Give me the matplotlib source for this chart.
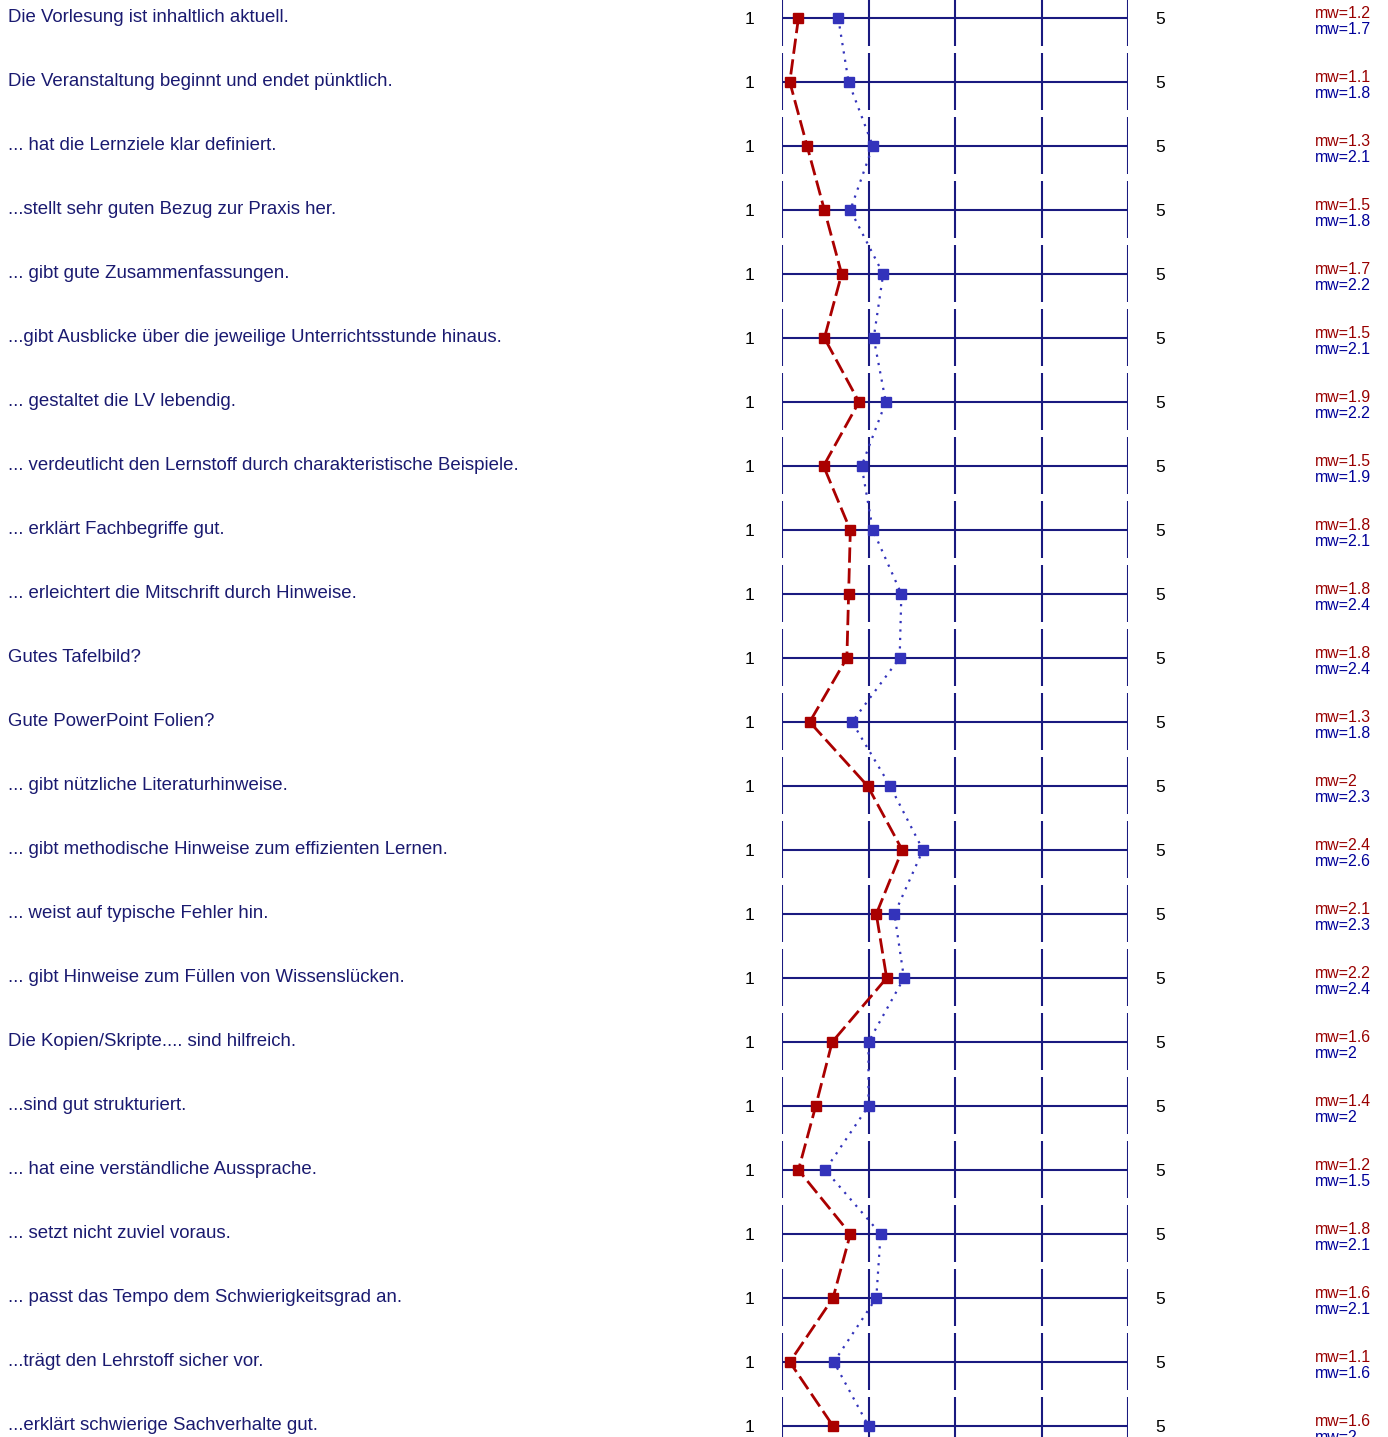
import numpy as np
import matplotlib
matplotlib.use("Agg")
import matplotlib.pyplot as plt
from matplotlib.transforms import blended_transform_factory

plt.rcParams['font.family'] = ['Liberation Sans', 'DejaVu Sans']

# statements (one row each)
questions = [
    "Die Vorlesung ist inhaltlich aktuell.",
    "Die Veranstaltung beginnt und endet pünktlich.",
    "... hat die Lernziele klar definiert.",
    "...stellt sehr guten Bezug zur Praxis her.",
    "... gibt gute Zusammenfassungen.",
    "...gibt Ausblicke über die jeweilige Unterrichtsstunde hinaus.",
    "... gestaltet die LV lebendig.",
    "... verdeutlicht den Lernstoff durch charakteristische Beispiele.",
    "... erklärt Fachbegriffe gut.",
    "... erleichtert die Mitschrift durch Hinweise.",
    "Gutes Tafelbild?",
    "Gute PowerPoint Folien?",
    "... gibt nützliche Literaturhinweise.",
    "... gibt methodische Hinweise zum effizienten Lernen.",
    "... weist auf typische Fehler hin.",
    "... gibt Hinweise zum Füllen von Wissenslücken.",
    "Die Kopien/Skripte.... sind hilfreich.",
    "...sind gut strukturiert.",
    "... hat eine verständliche Aussprache.",
    "... setzt nicht zuviel voraus.",
    "... passt das Tempo dem Schwierigkeitsgrad an.",
    "...trägt den Lehrstoff sicher vor.",
    "...erklärt schwierige Sachverhalte gut.",
]

# mean values as plotted
mean_red = [1.19, 1.09, 1.29, 1.49, 1.69, 1.49, 1.89, 1.48, 1.79, 1.77,
            1.75, 1.32, 1.99, 2.39, 2.09, 2.21, 1.58, 1.39, 1.19, 1.79,
            1.59, 1.09, 1.59]
mean_blue = [1.65, 1.77, 2.05, 1.79, 2.17, 2.06, 2.2, 1.92, 2.05, 2.38,
             2.36, 1.81, 2.25, 2.63, 2.3, 2.41, 2.0, 2.0, 1.5, 2.14,
             2.09, 1.6, 2.0]

# mw labels printed at the right
mw_red = ['1.2', '1.1', '1.3', '1.5', '1.7', '1.5', '1.9', '1.5', '1.8', '1.8',
          '1.8', '1.3', '2', '2.4', '2.1', '2.2', '1.6', '1.4', '1.2', '1.8',
          '1.6', '1.1', '1.6']
mw_blue = ['1.7', '1.8', '2.1', '1.8', '2.2', '2.1', '2.2', '1.9', '2.1', '2.4',
           '2.4', '1.8', '2.3', '2.6', '2.3', '2.4', '2', '2', '1.5', '2.1',
           '2.1', '1.6', '2']

scale = [1, 2, 3, 4, 5]

W, H = 1388, 1437
row_px = 64.0
top_px = 18.0

fig = plt.figure(figsize=(W / 100, H / 100), dpi=100)
ax = fig.add_axes([782 / W, 0, (1128 - 782) / W, 1])
ax.set_xlim(1, 5)
ax.set_ylim((H - top_px) / row_px, -top_px / row_px)
ax.axis('off')

grid_col = '#1a1a80'
red = '#aa0000'
blue = '#3333bb'
n = len(questions)
rows = np.arange(n)

# grid: horizontal line per row, broken vertical lines
ax.hlines(rows, 1, 5, color=grid_col, lw=1.5, zorder=1)
for r in rows:
    ax.vlines(scale, r - 29 / row_px, r + 28 / row_px, color=grid_col,
              lw=1.5, zorder=1)

ax.plot(mean_blue, rows, color=blue, ls=(0, (1, 2.8)), lw=1.6, marker='s',
        ms=6.5, mfc=blue, mec=blue, zorder=3, clip_on=False)
ax.plot(mean_red, rows, color=red, ls=(0, (5.5, 2)), lw=2, marker='s',
        ms=6.5, mfc=red, mec=red, zorder=4, clip_on=False)

tr = blended_transform_factory(fig.transFigure, ax.transData)
for r, q in enumerate(questions):
    ax.text(8 / W, r + 4 / row_px, q, transform=tr, ha='left',
            va='baseline', fontsize=13.4, color='#1a1a70')
    ax.text(749 / W, r + 6 / row_px, '1', transform=tr, ha='center',
            va='baseline', fontsize=12.5, color='black')
    ax.text(1160 / W, r + 6 / row_px, '5', transform=tr, ha='center',
            va='baseline', fontsize=12.5, color='black')
    ax.text(1315 / W, r + 0.5 / row_px, 'mw=' + mw_red[r], transform=tr,
            ha='left', va='baseline', fontsize=11.4, color='#990000')
    ax.text(1315 / W, r + 16 / row_px, 'mw=' + mw_blue[r], transform=tr,
            ha='left', va='baseline', fontsize=11.4, color='#000099')

fig.savefig('out.png', dpi=100)
